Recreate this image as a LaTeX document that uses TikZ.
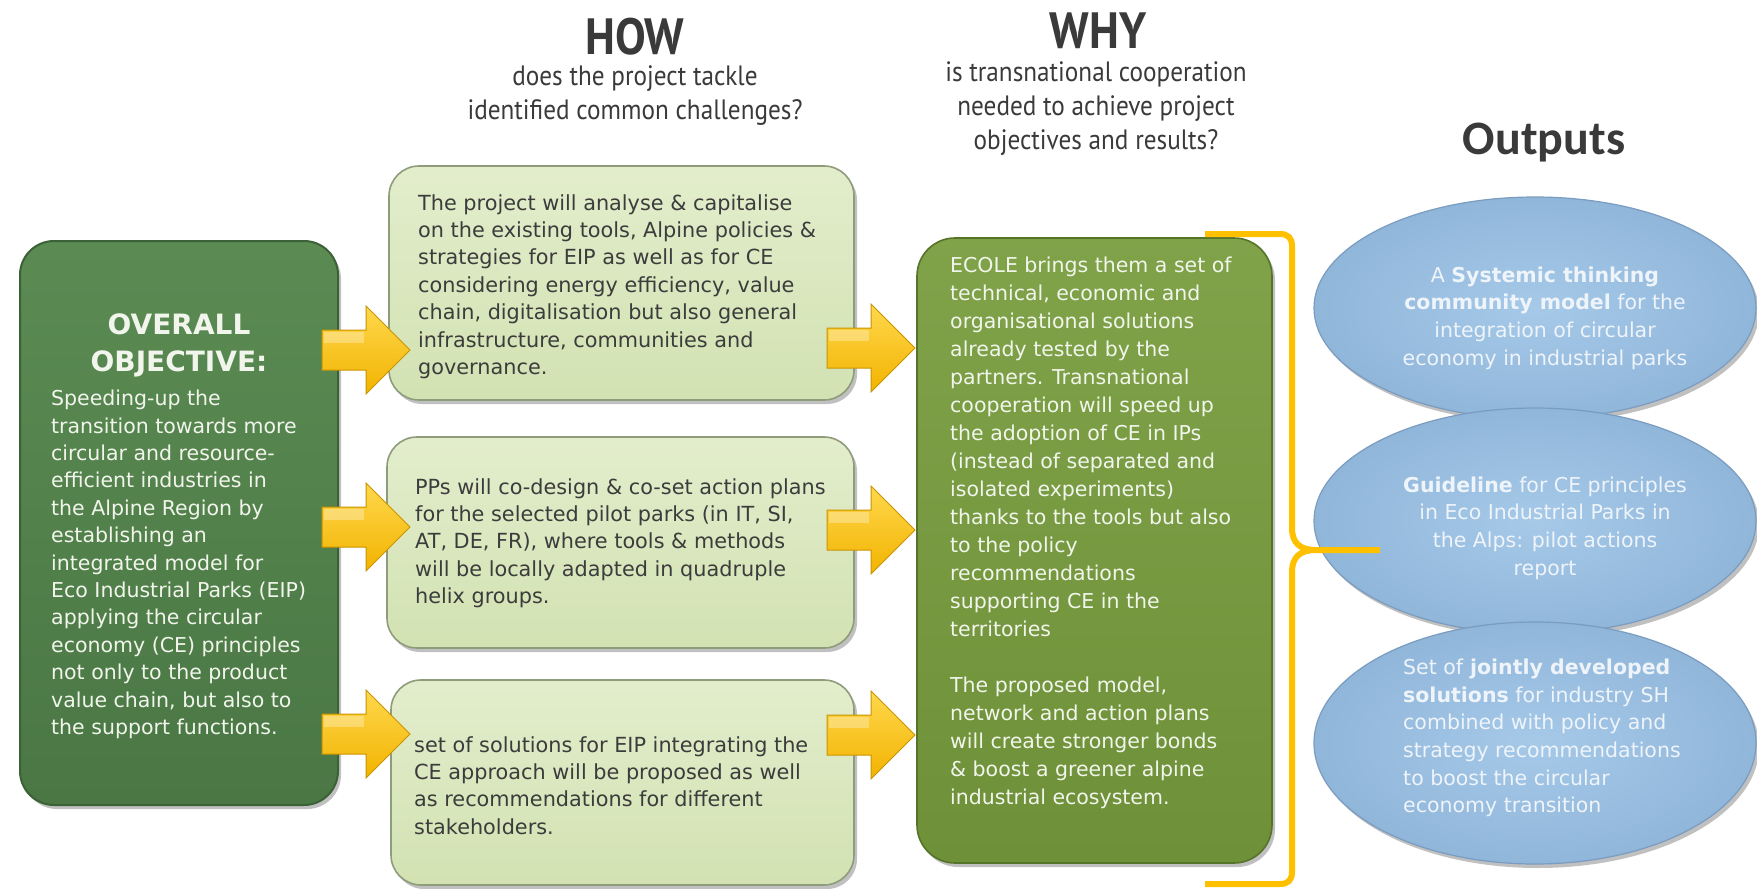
\documentclass[tikz,border=0pt]{standalone}
\usepackage{fontspec}
\setmainfont{DejaVu Sans}
\newfontfamily\headfont{PT Sans}[FakeStretch=0.9]
\newfontfamily\outfont{Carlito}
\usetikzlibrary{shapes.geometric,shadows}

\definecolor{objA}{HTML}{5B8B53}
\definecolor{objB}{HTML}{4A7744}
\definecolor{objE}{HTML}{3B6236}
\definecolor{howA}{HTML}{E3EDCC}
\definecolor{howB}{HTML}{D2E2B2}
\definecolor{howE}{HTML}{8E9C7C}
\definecolor{whyA}{HTML}{80A34A}
\definecolor{whyB}{HTML}{6E9038}
\definecolor{whyE}{HTML}{56732A}
\definecolor{goldA}{HTML}{FFD84D}
\definecolor{goldB}{HTML}{F2B300}
\definecolor{goldE}{HTML}{C99400}
\definecolor{braceC}{HTML}{FFC000}
\definecolor{ellIn}{HTML}{A6C9E8}
\definecolor{ellOut}{HTML}{90B6DA}
\definecolor{ellE}{HTML}{7A9CC0}
\definecolor{hdrC}{HTML}{3A3A3A}
\definecolor{howT}{HTML}{3C3C3C}
\definecolor{lightT}{HTML}{F1F5EC}
\definecolor{ellT}{HTML}{EEF4FA}

\tikzset{
 shad/.style={drop shadow={shadow xshift=3pt,shadow yshift=-4pt,opacity=0.35,fill=black!70}},
 objbox/.style={rectangle, rounded corners=34pt, top color=objA, bottom color=objB, draw=objE, line width=2pt, shad},
 howbox/.style={rectangle, rounded corners=30pt, top color=howA, bottom color=howB, draw=howE, line width=1.6pt, shad},
 whybox/.style={rectangle, rounded corners=38pt, top color=whyA, bottom color=whyB, draw=whyE, line width=1.6pt, shad},
 outell/.style={ellipse, inner color=ellIn, outer color=ellOut, draw=ellE, line width=1.2pt, shad},
 hdrbig/.style={font=\headfont\bfseries\fontsize{51}{53}\selectfont, text=hdrC, inner sep=0pt},
 hdrsub/.style={font=\headfont\fontsize{28}{34}\selectfont, text=hdrC, align=center, inner sep=0pt},
 bodytxt/.style={inner sep=0pt, anchor=north west, align=left},
 howtxt/.style={bodytxt, text=howT, font=\fontsize{20.8}{27.4}\selectfont},
 lighttxt/.style={bodytxt, text=lightT, font=\fontsize{20.5}{27.4}\selectfont},
 elltxt/.style={inner sep=0pt, text=ellT, font=\fontsize{20.5}{27.6}\selectfont},
 bracestyle/.style={draw=braceC, line width=6pt},
 pics/goldarrow/.style={code={
   \shade[top color=goldA, bottom color=goldB, draw=goldE, line width=1pt, line join=miter]
     (0,-20) -- (44,-20) -- (44,-44) -- (88,0) -- (44,44) -- (44,20) -- (0,20) -- cycle;
   \fill[white, opacity=0.3] (2,-18) -- (42,-18) -- (42,-7) -- (2,-7) -- cycle;
 }}
}

\begin{document}
\begin{tikzpicture}[x=1pt,y=-1pt]
\useasboundingbox (0,0) rectangle (1757,889);
\fill[white] (0,0) rectangle (1757,889);

% headers
\node[hdrbig] (how) at (635,37) {HOW};
\node[hdrsub] (howq) at (635,96) {does the project tackle\\identified common challenges?};
\node[hdrbig] (why) at (1098,31) {WHY};
\node[hdrsub] (whyq) at (1096,109) {is transnational cooperation\\needed to achieve project\\objectives and results?};
\node[inner sep=0pt, text=hdrC, font=\outfont\bfseries\fontsize{48}{50}\selectfont] (outt) at (1544,143) {Outputs};

% boxes
\node[objbox, minimum width=318pt, minimum height=564pt] (obj) at (179,523) {};
\node[howbox, minimum width=465pt, minimum height=234pt] (how1) at (621.5,283) {};
\node[howbox, minimum width=467pt, minimum height=211pt] (how2) at (620.5,542.5) {};
\node[howbox, minimum width=463pt, minimum height=205pt] (how3) at (622.5,782.5) {};
\node[whybox, minimum width=355pt, minimum height=625pt] (whyb) at (1094.5,550.5) {};

% arrows
\pic (al1) at (322,350) {goldarrow};
\pic (al2) at (322,527) {goldarrow};
\pic (al3) at (322,734) {goldarrow};
\pic (ar1) at (827,348) {goldarrow};
\pic (ar2) at (827,530) {goldarrow};
\pic (ar3) at (827,735) {goldarrow};

% outputs ellipses
\node[outell, minimum width=442pt, minimum height=222pt] (o1) at (1535,308) {};
\node[outell, minimum width=442pt, minimum height=226pt] (o2) at (1535,521) {};
\node[outell, minimum width=442pt, minimum height=242pt] (o3) at (1535,743) {};

% brace
\draw[bracestyle] (1205,234) -- (1280,234) .. controls (1288,234) and (1292,238) .. (1292,246)
  -- (1292,528) .. controls (1292,543) and (1300,550) .. (1316,550) -- (1380,550);
\draw[bracestyle] (1316,550) .. controls (1300,550) and (1292,557) .. (1292,572)
  -- (1292,872) .. controls (1292,880) and (1288,884) .. (1280,884) -- (1205,884);

% texts
\node[inner sep=0pt, text=lightT, align=center, font=\bfseries\fontsize{28}{37}\selectfont] (objt) at (179,345) {OVERALL\\OBJECTIVE:};
\node[lighttxt] (objx) at (51,390) {Speeding-up the\\transition towards more\\circular and resource-\\efficient industries in\\the Alpine Region by\\establishing an\\integrated model for\\Eco Industrial Parks (EIP)\\applying the circular\\economy (CE) principles\\not only to the product\\value chain, but also to\\the support functions.};

\node[howtxt] (h1x) at (418,194) {The project will analyse \& capitalise\\on the existing tools, Alpine policies \&\\strategies for EIP as well as for CE\\considering energy efficiency, value\\chain, digitalisation but also general\\infrastructure, communities and\\governance.};
\node[howtxt] (h2x) at (415,478) {PPs will co-design \& co-set action plans\\for the selected pilot parks (in IT, SI,\\AT, DE, FR), where tools \& methods\\will be locally adapted in quadruple\\helix groups.};
\node[howtxt] (h3x) at (414,736) {set of solutions for EIP integrating the\\CE approach will be proposed as well\\as recommendations for different\\stakeholders.};

\node[lighttxt, font=\fontsize{20.5}{28}\selectfont] (wx) at (950,257) {ECOLE brings them a set of\\technical, economic and\\organisational solutions\\already tested by the\\partners. Transnational\\cooperation will speed up\\the adoption of CE in IPs\\(instead of separated and\\isolated experiments)\\thanks to the tools but also\\to the policy\\recommendations\\supporting CE in the\\territories\\[28pt]The proposed model,\\network and action plans\\will create stronger bonds\\\& boost a greener alpine\\industrial ecosystem.};

\node[elltxt, align=center] (o1x) at (1545,318) {A \textbf{Systemic thinking}\\\textbf{community model} for the\\integration of circular\\economy in industrial parks};
\node[elltxt, align=center] (o2x) at (1545,528) {\textbf{Guideline} for CE principles\\in Eco Industrial Parks in\\the Alps: pilot actions\\report};
\node[elltxt, align=left, anchor=west] (o3x) at (1403,738) {Set of \textbf{jointly developed}\\\textbf{solutions} for industry SH\\combined with policy and\\strategy recommendations\\to boost the circular\\economy transition};
\end{tikzpicture}
\end{document}
